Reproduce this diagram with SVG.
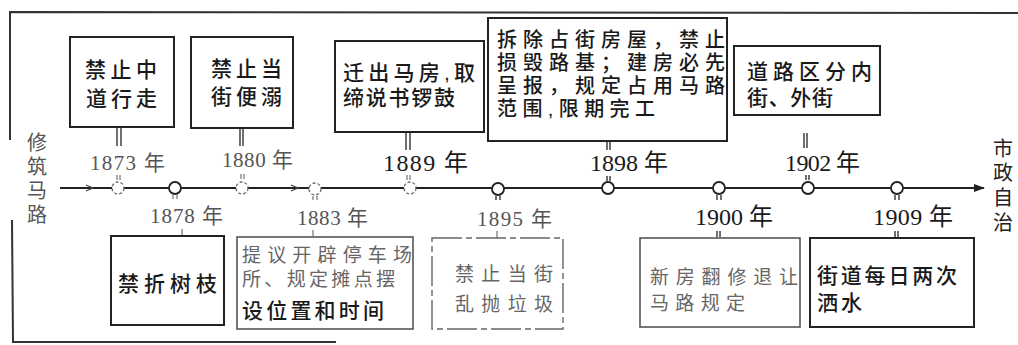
<svg xmlns="http://www.w3.org/2000/svg" width="1018" height="345" viewBox="0 0 1018 345" lang="zh-CN" xml:lang="zh-CN">
<defs>
<style>
.box{fill:#fff;stroke:#222;stroke-width:2}
.fbox{fill:#fff;stroke:#555;stroke-width:1.6}
.dbox{fill:#fff;stroke:#666;stroke-width:1.4;stroke-dasharray:30 4 6 4}
.t{font-family:"Liberation Sans","Noto Sans CJK SC",sans-serif;font-size:21px;fill:#1a1a1a;font-weight:500}
.ts{font-family:"Liberation Sans","Noto Sans CJK SC",sans-serif;font-size:20px;fill:#1a1a1a;font-weight:500}
.tf{font-family:"Liberation Sans","Noto Sans CJK SC",sans-serif;font-size:19px;fill:#666;font-weight:400}
.bd{fill:#1a1a1a;font-weight:500;font-size:21px}
.yr{font-family:"Liberation Serif","Noto Sans CJK SC",serif;font-size:24px;fill:#1a1a1a}
.yrf{font-family:"Liberation Serif","Noto Sans CJK SC",serif;font-size:21px;fill:#555}
.tk{stroke:#222;stroke-width:1.3}
.tkf{stroke:#666;stroke-width:1.1}
.c{fill:#fff;stroke:#222;stroke-width:1.8}
.cf{fill:#fff;stroke:#666;stroke-width:1.3;stroke-dasharray:3 2}
.ln{stroke:#222;stroke-width:1.8;fill:none}
.fr{stroke:#333;stroke-width:2;fill:none}
.v{font-family:"Liberation Sans","Noto Sans CJK SC",sans-serif;font-size:20px;text-anchor:middle}
</style>
<marker id="ah" markerWidth="12" markerHeight="10" refX="10" refY="5" orient="auto" markerUnits="userSpaceOnUse">
<path d="M0,1 L11,5 L0,9 Z" fill="#222"/>
</marker>
</defs>
<rect width="1018" height="345" fill="#fff"/>

<g id="frame">
<path class="fr" d="M10,140 L10,12 L1018,13"/>
<path class="fr" d="M12,220 L13,342 L336,342"/>
</g>

<g id="connectors">
<line class="ln" x1="60" y1="188" x2="984" y2="188" marker-end="url(#ah)"/>
<path d="M86,185 L93,188 L86,191" fill="none" stroke="#444" stroke-width="1.2"/>
<path d="M291,185 L298,188 L291,191" fill="none" stroke="#444" stroke-width="1.2"/>
</g>

<g id="start">
<text class="v" fill="#555"><tspan x="37" y="150">修</tspan><tspan x="37" y="174">筑</tspan><tspan x="37" y="198">马</tspan><tspan x="37" y="222">路</tspan></text>
</g>

<g id="end">
<text class="v" fill="#222"><tspan x="1003" y="156">市</tspan><tspan x="1003" y="180">政</tspan><tspan x="1003" y="205">自</tspan><tspan x="1003" y="230">治</tspan></text>
</g>

<g id="n1873">
<rect class="box" x="70" y="37" width="104" height="90"/>
<text class="t"><tspan x="85" y="77" textLength="72" lengthAdjust="spacing">禁止中</tspan><tspan x="86" y="106" textLength="71" lengthAdjust="spacing">道行走</tspan></text>
<line class="tk" x1="117" y1="128" x2="117" y2="146"/><line class="tk" x1="121" y1="128" x2="121" y2="146"/>
<text class="yrf" x="90" y="170" textLength="75" lengthAdjust="spacing">1873 年</text>
<line class="tkf" x1="117" y1="175" x2="117" y2="180"/><line class="tkf" x1="120" y1="175" x2="120" y2="180"/>
<circle class="cf" cx="118" cy="188" r="6"/>
</g>

<g id="n1880">
<rect class="box" x="191" y="37" width="102" height="91"/>
<text class="t"><tspan x="211" y="76" textLength="71" lengthAdjust="spacing">禁止当</tspan><tspan x="211" y="104" textLength="71" lengthAdjust="spacing">街便溺</tspan></text>
<line class="tk" x1="240" y1="128" x2="240" y2="146"/><line class="tk" x1="243" y1="128" x2="243" y2="146"/>
<text class="yrf" x="222" y="167" textLength="71" lengthAdjust="spacing">1880 年</text>
<line class="tkf" x1="241" y1="174" x2="241" y2="179"/><line class="tkf" x1="244" y1="174" x2="244" y2="179"/>
<circle class="cf" cx="242" cy="188" r="6"/>
</g>

<g id="n1889">
<rect class="box" x="335" y="41" width="149" height="91"/>
<text class="t"><tspan x="343" y="80" textLength="132" lengthAdjust="spacing">迁出马房,取</tspan><tspan x="343" y="105" textLength="112" lengthAdjust="spacing">缔说书锣鼓</tspan></text>
<line class="tk" x1="406" y1="132" x2="406" y2="150"/><line class="tk" x1="410" y1="132" x2="410" y2="150"/>
<text class="yr" x="383" y="171" textLength="85" lengthAdjust="spacing">1889 年</text>
<line class="tkf" x1="407" y1="175" x2="407" y2="180"/><line class="tkf" x1="410" y1="175" x2="410" y2="180"/>
<circle class="cf" cx="410" cy="188" r="6"/>
</g>

<g id="n1898">
<rect class="box" x="488" y="18" width="239" height="123"/>
<text class="ts"><tspan x="497" y="47" textLength="228" lengthAdjust="spacing">拆除占街房屋，禁止</tspan><tspan x="497" y="70" textLength="228" lengthAdjust="spacing">损毁路基；建房必先</tspan><tspan x="497" y="93" textLength="228" lengthAdjust="spacing">呈报，规定占用马路</tspan><tspan x="497" y="116" textLength="158" lengthAdjust="spacing">范围,限期完工</tspan></text>
<line class="tk" x1="607" y1="142" x2="607" y2="150"/><line class="tk" x1="610" y1="142" x2="610" y2="150"/>
<text class="yr" x="590" y="171" textLength="78" lengthAdjust="spacing">1898 年</text>
<line class="tk" x1="607" y1="176" x2="607" y2="181"/><line class="tk" x1="610" y1="176" x2="610" y2="181"/>
<circle class="c" cx="608" cy="188" r="6"/>
</g>

<g id="n1902">
<rect class="box" x="734" y="46" width="146" height="69"/>
<text class="t"><tspan x="747" y="79" textLength="125" lengthAdjust="spacing">道路区分内</tspan><tspan x="747" y="105" textLength="86" lengthAdjust="spacing">街、外街</tspan></text>
<line class="tk" x1="804" y1="133" x2="804" y2="148"/><line class="tk" x1="807" y1="133" x2="807" y2="148"/>
<text class="yr" x="785" y="171" textLength="75" lengthAdjust="spacing">1902 年</text>
<line class="tk" x1="806" y1="175" x2="806" y2="180"/><line class="tk" x1="809" y1="175" x2="809" y2="180"/>
<circle class="c" cx="808" cy="188" r="6"/>
</g>

<g id="n1878">
<circle class="c" cx="175" cy="188" r="6"/>
<line class="tkf" x1="173" y1="195" x2="173" y2="199"/><line class="tkf" x1="177" y1="195" x2="177" y2="199"/>
<text class="yrf" x="150" y="223" textLength="73" lengthAdjust="spacing">1878 年</text>
<line class="tkf" x1="182" y1="229" x2="182" y2="235"/>
<rect class="box" x="111" y="236" width="113" height="89"/>
<text class="t" x="118" y="291" font-size="24" textLength="99" lengthAdjust="spacing">禁折树枝</text>
</g>

<g id="n1883">
<circle class="cf" cx="315" cy="189" r="6"/>
<line class="tkf" x1="313" y1="196" x2="313" y2="200"/><line class="tkf" x1="317" y1="196" x2="317" y2="200"/>
<text class="yrf" x="297" y="225" textLength="71" lengthAdjust="spacing">1883 年</text>
<line class="tkf" x1="313" y1="230" x2="313" y2="236"/>
<rect class="fbox" x="237" y="237" width="176" height="92"/>
<text class="tf"><tspan x="242" y="262" textLength="170" lengthAdjust="spacing">提议开辟停车场</tspan><tspan x="242" y="286" textLength="153" lengthAdjust="spacing">所、规定摊点摆</tspan><tspan class="bd" x="242" y="318" textLength="142" lengthAdjust="spacing">设位置和时间</tspan></text>
</g>

<g id="n1895">
<circle class="c" cx="498" cy="189" r="6"/>
<line class="tk" x1="496" y1="196" x2="496" y2="200"/><line class="tk" x1="500" y1="196" x2="500" y2="200"/>
<text class="yrf" x="477" y="226" textLength="75" lengthAdjust="spacing">1895 年</text>
<line class="tkf" x1="497" y1="231" x2="497" y2="238"/>
<rect class="dbox" x="432" y="238" width="131" height="91"/>
<text class="tf"><tspan x="455" y="281" textLength="98" lengthAdjust="spacing">禁止当街</tspan><tspan x="455" y="311" textLength="98" lengthAdjust="spacing">乱抛垃圾</tspan></text>
</g>

<g id="n1900">
<circle class="c" cx="719" cy="188" r="6"/>
<line class="tk" x1="717" y1="195" x2="717" y2="200"/><line class="tk" x1="721" y1="195" x2="721" y2="200"/>
<text class="yr" x="695" y="225" textLength="78" lengthAdjust="spacing">1900 年</text>
<line class="tk" x1="717" y1="231" x2="717" y2="237"/><line class="tk" x1="720" y1="231" x2="720" y2="237"/>
<rect class="fbox" x="640" y="238" width="160" height="89"/>
<text class="tf"><tspan x="650" y="284" textLength="148" lengthAdjust="spacing">新房翻修退让</tspan><tspan x="650" y="310" textLength="95" lengthAdjust="spacing">马路规定</tspan></text>
</g>

<g id="n1909">
<circle class="c" cx="897" cy="188" r="6"/>
<line class="tk" x1="895" y1="195" x2="895" y2="200"/><line class="tk" x1="899" y1="195" x2="899" y2="200"/>
<text class="yr" x="873" y="225" textLength="80" lengthAdjust="spacing">1909 年</text>
<line class="tk" x1="895" y1="231" x2="895" y2="237"/><line class="tk" x1="898" y1="231" x2="898" y2="237"/>
<rect class="box" x="810" y="238" width="164" height="89"/>
<text class="t"><tspan x="817" y="283" textLength="140" lengthAdjust="spacing">街道每日两次</tspan><tspan x="817" y="310" textLength="45" lengthAdjust="spacing">洒水</tspan></text>
</g>
</svg>
